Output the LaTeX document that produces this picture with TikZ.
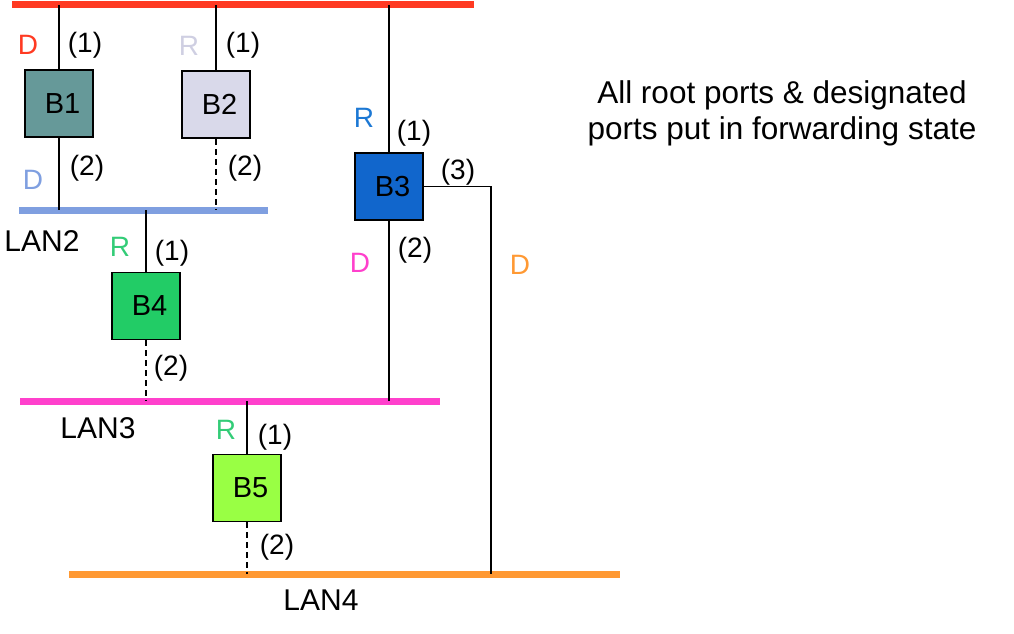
\documentclass[tikz,border=0pt]{standalone}
\usepackage{fontspec}
\setmainfont{Liberation Sans}
\usetikzlibrary{positioning}

\definecolor{lanred}{HTML}{FF3A22}
\definecolor{lanblue}{HTML}{7F9FE0}
\definecolor{lanpink}{HTML}{FF40CC}
\definecolor{lanorange}{HTML}{FF9933}
\definecolor{bteal}{HTML}{669999}
\definecolor{bgrey}{HTML}{D9D9EA}
\definecolor{rgrey}{HTML}{CFCFE2}
\definecolor{bblue}{HTML}{1166CC}
\definecolor{rblue}{HTML}{1C78D4}
\definecolor{bgreen}{HTML}{22CC66}
\definecolor{rgreen}{HTML}{33CC77}
\definecolor{blime}{HTML}{99FF44}

\begin{document}
\begin{tikzpicture}[x=1pt,y=-1pt,
    bridge/.style={draw,line width=1.5pt,minimum width=68pt,minimum height=67pt,
      font=\fontsize{29}{34}\selectfont,execute at begin node={\hspace*{7pt}}},
    lan/.style={line width=7pt},
    link/.style={line width=1.2pt},
    blocked/.style={line width=1.2pt,dash pattern=on 6pt off 4pt},
    lbl/.style={font=\fontsize{28}{33}\selectfont,inner sep=0pt},
    lanlbl/.style={font=\fontsize{30}{36}\selectfont,inner sep=0pt}]

  \useasboundingbox (0,0) rectangle (1014,634);

  % LANs
  \coordinate (lan1w) at (12,5);    \coordinate (lan1e) at (474,5);
  \coordinate (lan2w) at (19,210);  \coordinate (lan2e) at (268,210);
  \coordinate (lan3w) at (20,401);  \coordinate (lan3e) at (440,401);
  \coordinate (lan4w) at (69,574);  \coordinate (lan4e) at (620,574);
  \draw[lan,lanred]    (lan1w) -- (lan1e);
  \draw[lan,lanblue]   (lan2w) -- (lan2e);
  \draw[lan,lanpink]   (lan3w) -- (lan3e);
  \draw[lan,lanorange] (lan4w) -- (lan4e);

  \node[lanlbl] (lan2) at (42,241) {LAN2};
  \node[lanlbl] (lan3) at (98,428) {LAN3};
  \node[lanlbl] (lan4) at (321,600) {LAN4};

  % bridges
  \node[bridge,fill=bteal]  (b1) at (59,103.5)  {B1};
  \node[bridge,fill=bgrey]  (b2) at (216,104.5) {B2};
  \node[bridge,fill=bblue]  (b3) at (389,186.5) {B3};
  \node[bridge,fill=bgreen] (b4) at (146,306)   {B4};
  \node[bridge,fill=blime]  (b5) at (247,488)   {B5};

  % taps on the LANs
  \coordinate (t1b1) at (b1 |- lan1w);
  \coordinate (t1b2) at (b2 |- lan1w);
  \coordinate (t1b3) at (b3 |- lan1w);
  \coordinate (t2b1) at (b1 |- lan2w);
  \coordinate (t2b2) at (b2 |- lan2w);
  \coordinate (t2b4) at (b4 |- lan2w);
  \coordinate (t3b4) at (b4 |- lan3w);
  \coordinate (t3b3) at (b3 |- lan3w);
  \coordinate (t3b5) at (b5 |- lan3w);
  \coordinate (t4b5) at (b5 |- lan4w);
  \coordinate (c3)   at (491,186.5);
  \coordinate (t4b3) at (c3 |- lan4w);

  \draw[link]    (b1.north) -- (t1b1);
  \draw[link]    (b1.south) -- (t2b1);
  \draw[link]    (b2.north) -- (t1b2);
  \draw[blocked] (b2.south) -- (t2b2);
  \draw[link]    (b3.north) -- (t1b3);
  \draw[link]    (b3.south) -- (t3b3);
  \draw[link]    (b3.east) -- (c3) -- (t4b3);
  \draw[link]    (b4.north) -- (t2b4);
  \draw[blocked] (b4.south) -- (t3b4);
  \draw[link]    (b5.north) -- (t3b5);
  \draw[blocked] (b5.south) -- (t4b5);

  % port numbers
  \node[lbl] (b1p1) at (85,45)   {(1)};
  \node[lbl] (b1p2) at (87,168)  {(2)};
  \node[lbl] (b2p1) at (243,45)  {(1)};
  \node[lbl] (b2p2) at (245,168) {(2)};
  \node[lbl] (b3p1) at (414,133) {(1)};
  \node[lbl] (b3p2) at (415,250) {(2)};
  \node[lbl] (b3p3) at (458,172) {(3)};
  \node[lbl] (b4p1) at (172,253) {(1)};
  \node[lbl] (b4p2) at (171,368) {(2)};
  \node[lbl] (b5p1) at (275,437) {(1)};
  \node[lbl] (b5p2) at (277,547) {(2)};

  % port roles
  \node[lbl,text=lanred]    (b1r1) at (28,45)  {D};
  \node[lbl,text=lanblue]   (b1r2) at (33,180) {D};
  \node[lbl,text=rgrey]     (b2r1) at (189,46) {R};
  \node[lbl,text=rblue]     (b3r1) at (364,118) {R};
  \node[lbl,text=lanpink]   (b3r2) at (360,263) {D};
  \node[lbl,text=lanorange] (b3r3) at (520,265) {D};
  \node[lbl,text=rgreen]    (b4r1) at (120,247) {R};
  \node[lbl,text=rgreen]    (b5r1) at (226,430) {R};

  \node[align=center,font=\fontsize{31.5}{36}\selectfont] (note) at (782,113)
    {All root ports \& designated\\ports put in forwarding state};
\end{tikzpicture}
\end{document}
